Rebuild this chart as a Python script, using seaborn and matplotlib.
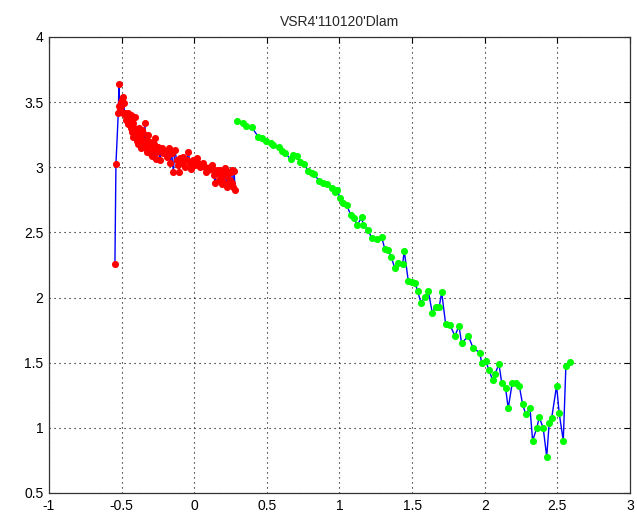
import numpy as np
import pandas as pd
import matplotlib
matplotlib.use("Agg")
import matplotlib.pyplot as plt
import seaborn as sns

# red series (first run)
red_x = [-0.546, -0.539, -0.523, -0.518, -0.516, -0.511, -0.507, -0.502, -0.497, -0.492,
         -0.488, -0.484, -0.479, -0.474, -0.470, -0.465, -0.459, -0.454, -0.448, -0.442,
         -0.437, -0.433, -0.426, -0.422, -0.419, -0.414, -0.410, -0.405, -0.401, -0.396,
         -0.392, -0.387, -0.383, -0.378, -0.373, -0.368, -0.362, -0.356, -0.351, -0.345,
         -0.339, -0.334, -0.328, -0.322, -0.316, -0.311, -0.305, -0.299, -0.293, -0.288,
         -0.282, -0.276, -0.270, -0.265, -0.259,
         -0.247, -0.236, -0.224, -0.213, -0.201, -0.190, -0.178, -0.172, -0.167, -0.155,
         -0.144, -0.133, -0.121, -0.110, -0.104, -0.098, -0.087, -0.075, -0.064, -0.052,
         -0.041, -0.029, -0.024, -0.018, -0.006, 0.005, 0.017, 0.028, 0.040, 0.051,
         0.063, 0.074, 0.080, 0.085, 0.097, 0.108, 0.120, 0.131, 0.137, 0.143,
         0.154, 0.166, 0.171, 0.177, 0.189,
         0.194, 0.200, 0.206, 0.212, 0.217, 0.223, 0.229, 0.235, 0.240, 0.246,
         0.252, 0.258, 0.263, 0.269, 0.275, 0.281]
red_y = [2.257, 3.025, 3.414, 3.639, 3.470, 3.440, 3.503, 3.470, 3.516, 3.420,
         3.542, 3.491, 3.400, 3.414, 3.360, 3.388, 3.330, 3.419, 3.380, 3.363,
         3.300, 3.401, 3.273, 3.230, 3.337, 3.300, 3.388, 3.250, 3.286, 3.200,
         3.235, 3.180, 3.299, 3.260, 3.222, 3.150, 3.286, 3.210, 3.260, 3.190,
         3.337, 3.150, 3.209, 3.120, 3.248, 3.170, 3.196, 3.100, 3.158, 3.090,
         3.132, 3.180, 3.222, 3.060, 3.120,
         3.158, 3.056, 3.145, 3.107, 3.120, 3.081, 3.094, 3.150, 3.030, 3.107,
         2.966, 3.132, 3.056, 3.017, 2.960, 3.068, 3.030, 3.081, 3.004, 3.056,
         3.120, 3.030, 2.990, 3.017, 3.056, 3.017, 3.068, 3.030, 3.004, 3.017,
         3.030, 3.004, 2.960, 2.992, 2.979, 3.004, 3.017, 2.979, 2.940, 2.877,
         2.979, 2.953, 2.900, 2.979, 2.928,
         2.870, 2.966, 2.880, 2.992, 2.960, 2.851, 2.930, 2.966, 2.870, 2.902,
         2.960, 2.979, 2.880, 2.851, 2.970, 2.825]

# green series (second run)
green_x = [0.296, 0.338, 0.356, 0.396, 0.441, 0.464, 0.494, 0.526, 0.540, 0.586,
           0.602, 0.625, 0.664, 0.682, 0.705, 0.728, 0.756, 0.785, 0.809, 0.824,
           0.861, 0.888, 0.912, 0.946, 0.969, 0.985, 1.003, 1.026, 1.050, 1.077,
           1.100, 1.123, 1.153, 1.164, 1.198, 1.222, 1.256, 1.291, 1.313, 1.336,
           1.355, 1.382, 1.405, 1.435, 1.446, 1.474, 1.497, 1.520, 1.538, 1.561,
           1.589, 1.611, 1.639, 1.664, 1.687, 1.704, 1.731, 1.761, 1.795, 1.823,
           1.841, 1.887, 1.921, 1.967, 1.979, 2.007, 2.029, 2.055, 2.071, 2.098,
           2.117, 2.144, 2.162, 2.190, 2.213, 2.238, 2.261, 2.282, 2.312, 2.330,
           2.358, 2.376, 2.403, 2.427, 2.444, 2.461, 2.495, 2.513, 2.541, 2.559,
           2.587]
green_y = [3.357, 3.337, 3.317, 3.307, 3.234, 3.222, 3.204, 3.188, 3.173, 3.153,
           3.127, 3.112, 3.061, 3.094, 3.086, 3.043, 3.025, 2.974, 2.958, 2.946,
           2.897, 2.877, 2.871, 2.843, 2.812, 2.825, 2.762, 2.728, 2.710, 2.634,
           2.608, 2.557, 2.616, 2.557, 2.518, 2.455, 2.447, 2.462, 2.370, 2.365,
           2.314, 2.224, 2.267, 2.257, 2.357, 2.127, 2.122, 2.114, 2.050, 1.960,
           2.007, 2.053, 1.884, 1.930, 1.930, 2.040, 1.797, 1.789, 1.705, 1.784,
           1.649, 1.705, 1.611, 1.577, 1.495, 1.515, 1.444, 1.367, 1.413, 1.490,
           1.347, 1.304, 1.150, 1.347, 1.347, 1.323, 1.181, 1.106, 1.150, 0.901,
           0.997, 1.081, 0.997, 0.779, 1.035, 1.073, 1.323, 1.112, 0.901, 1.475,
           1.508]

x_ticks = [-1, -0.5, 0, 0.5, 1, 1.5, 2, 2.5, 3]
x_labels = ["-1", "-0.5", "0", "0.5", "1", "1.5", "2", "2.5", "3"]
y_ticks = [0.5, 1, 1.5, 2, 2.5, 3, 3.5, 4]
y_labels = ["0.5", "1", "1.5", "2", "2.5", "3", "3.5", "4"]

red = pd.DataFrame({"x": red_x, "y": red_y})
green = pd.DataFrame({"x": green_x, "y": green_y})

sns.set_style("white")
plt.rcParams["font.family"] = ["Liberation Sans", "DejaVu Sans"]

fig = plt.figure(figsize=(6.37, 5.18), dpi=100)
ax = fig.add_axes([0.0769, 0.0483, 0.912, 0.8803])

for df, c in [(red, "#ff0000"), (green, "#00ff00")]:
    sns.lineplot(data=df, x="x", y="y", color="#0000ff", lw=1.0, sort=False,
                 estimator=None, ax=ax, zorder=2)
    sns.scatterplot(data=df, x="x", y="y", color=c, marker="o", s=26,
                    linewidth=0, ax=ax, zorder=3)

ax.set_xlim(-1, 3)
ax.set_ylim(0.5, 4)
ax.set_xticks(x_ticks)
ax.set_xticklabels(x_labels)
ax.set_yticks(y_ticks)
ax.set_yticklabels(y_labels)
ax.set_xlabel("")
ax.set_ylabel("")
ax.grid(True, color="black", linestyle=(0, (1, 3.5)), linewidth=0.8)
ax.tick_params(direction="in", top=True, right=True, length=4, width=0.8,
               labelsize=10, colors="black", pad=4)
for s in ax.spines.values():
    s.set_color("#333333")
    s.set_linewidth(0.9)
ax.set_title("VSR4'110120'Dlam", fontsize=10, pad=8)

fig.savefig("out.png", dpi=100, facecolor="white")
